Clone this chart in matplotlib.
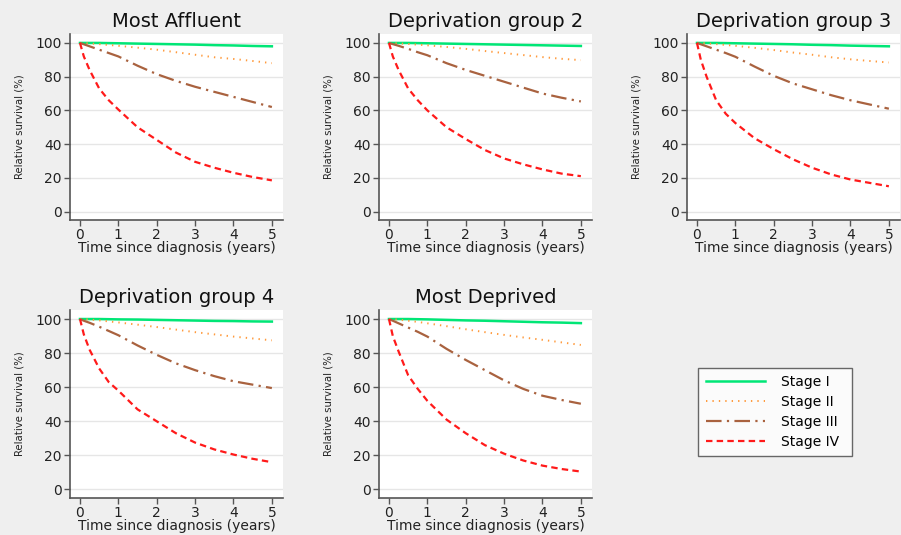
import matplotlib
matplotlib.use("Agg")
import matplotlib.pyplot as plt

# ===== data =====
years = [0, 0.1, 0.25, 0.5, 0.75, 1, 1.5, 2, 2.5, 3, 3.5, 4, 4.5, 5]

titles = ["Most Affluent", "Deprivation group 2", "Deprivation group 3",
          "Deprivation group 4", "Most Deprived"]
stage_names = ["Stage I", "Stage II", "Stage III", "Stage IV"]

stage1 = [
    [100, 100, 100, 100, 99.9, 99.8, 99.6, 99.4, 99.2, 99.0, 98.7, 98.5, 98.2, 98.0],
    [100, 100, 100, 100, 99.9, 99.8, 99.6, 99.4, 99.2, 99.0, 98.8, 98.6, 98.4, 98.2],
    [100, 100, 100, 100, 99.9, 99.8, 99.6, 99.4, 99.2, 98.9, 98.7, 98.4, 98.2, 98.0],
    [100, 100, 100, 100, 99.9, 99.8, 99.7, 99.5, 99.3, 99.1, 98.9, 98.8, 98.6, 98.5],
    [100, 100, 100, 100, 99.9, 99.8, 99.5, 99.2, 99.0, 98.7, 98.4, 98.1, 97.9, 97.6],
]
stage2 = [
    [100, 99.9, 99.7, 99.3, 98.8, 98.3, 97.2, 96.0, 94.5, 93.0, 91.5, 90.5, 89.3, 88.0],
    [100, 99.9, 99.7, 99.4, 99.0, 98.6, 97.6, 96.5, 95.2, 94.0, 92.8, 91.6, 90.6, 89.8],
    [100, 99.9, 99.7, 99.3, 98.8, 98.3, 97.1, 95.8, 94.3, 93.0, 91.5, 90.3, 89.3, 88.4],
    [100, 99.9, 99.7, 99.2, 98.6, 98.0, 96.7, 95.3, 93.8, 92.3, 91.0, 89.7, 88.6, 87.5],
    [100, 99.9, 99.6, 99.0, 98.3, 97.5, 95.8, 94.0, 92.3, 90.7, 89.2, 87.8, 86.3, 84.8],
]
stage3 = [
    [100, 99.2, 98.0, 96.0, 94.0, 92.0, 86.5, 81.5, 77.5, 74.0, 71.0, 68.0, 65.0, 62.0],
    [100, 99.3, 98.3, 96.5, 94.5, 92.7, 88.0, 84.0, 80.5, 77.0, 73.5, 70.0, 67.5, 65.3],
    [100, 99.2, 98.0, 96.0, 94.0, 91.8, 86.0, 80.5, 76.0, 72.5, 69.0, 66.0, 63.5, 61.0],
    [100, 99.0, 97.8, 95.5, 93.0, 90.5, 84.5, 79.0, 74.0, 70.0, 66.5, 63.5, 61.5, 59.5],
    [100, 99.0, 97.5, 95.0, 92.5, 89.7, 82.5, 76.0, 70.0, 64.0, 59.0, 55.0, 52.5, 50.3],
]
stage4 = [
    [100, 92, 84, 73, 66, 60.5, 50, 42.5, 35, 29.5, 26, 23, 20.5, 18.5],
    [100, 92, 84, 73, 66, 60, 50, 43, 36.5, 31.5, 28, 25, 22.5, 21],
    [100, 90, 80, 66, 58, 52.5, 43.5, 37, 31, 26, 22, 19, 17, 15],
    [100, 91, 82, 71, 63, 58, 47, 40, 33, 27.5, 23.5, 20.5, 18, 16],
    [100, 90, 81, 67, 59, 52, 41, 33, 26, 21, 17, 14, 12, 10.5],
]

yticks = [0, 20, 40, 60, 80, 100]
xticks = [0, 1, 2, 3, 4, 5]

# ===== styles =====
BG = "#efefef"
AXC = "#555555"
styles = [
    dict(color="#00e676", lw=1.8, ls="-"),
    dict(color="#ff9a3c", lw=1.4, ls=(0, (0.7, 2.6))),
    dict(color="#a9623f", lw=1.6, ls=(0, (7, 2.4, 1, 2.4))),
    dict(color="#ff1a1a", lw=1.6, ls=(0, (2.9, 1.9))),
]

W, H = 901, 535
fig = plt.figure(figsize=(W / 100, H / 100), dpi=100, facecolor=BG)

# axes boxes in pixels: left, top, right, bottom
boxes = [
    (70, 34, 283, 220),
    (379, 34, 592, 220),
    (687, 34, 900, 220),
    (70, 310, 283, 498),
    (379, 310, 592, 498),
]

lines = []
for i, (l, t, r, b) in enumerate(boxes):
    ax = fig.add_axes([l / W, 1 - b / H, (r - l) / W, (b - t) / H])
    ax.set_facecolor("white")
    for y in yticks:
        ax.axhline(y, color="#e6e6e6", lw=1.0, zorder=0)
    series = [stage1[i], stage2[i], stage3[i], stage4[i]]
    for s, st, name in zip(series, styles, stage_names):
        ln, = ax.plot(years, s, label=name, **st)
        if i == 0:
            lines.append(ln)
    ax.set_xlim(-0.26, 5.29)
    ax.set_ylim(-5, 105.3)
    ax.set_xticks(xticks)
    ax.set_yticks(yticks)
    ax.tick_params(axis="both", direction="out", length=4, width=1,
                   color=AXC, labelsize=10, labelcolor="#222222", pad=2)
    for side in ["top", "right"]:
        ax.spines[side].set_visible(False)
    for side in ["left", "bottom"]:
        ax.spines[side].set_color(AXC)
        ax.spines[side].set_linewidth(1.2)
    ax.set_title(titles[i], fontsize=14, color="#111111", pad=5)
    ax.set_xlabel("Time since diagnosis (years)", fontsize=10,
                  color="#222222", labelpad=-1)
    ax.set_ylabel("Relative survival (%)", fontsize=7.3,
                  color="#222222", labelpad=8)

leg = fig.legend(lines, stage_names, loc="upper left",
                 bbox_to_anchor=(698 / W, 1 - 373 / H, 154 / W, 0.01),
                 mode="expand", fontsize=10, handlelength=4.3,
                 handletextpad=1.1, labelspacing=0.42, borderpad=0.55,
                 frameon=True, fancybox=False, borderaxespad=0)
leg.get_frame().set_edgecolor("#444444")
leg.get_frame().set_linewidth(1.0)
leg.get_frame().set_facecolor("white")

fig.savefig("out.png", dpi=100, facecolor=BG)
